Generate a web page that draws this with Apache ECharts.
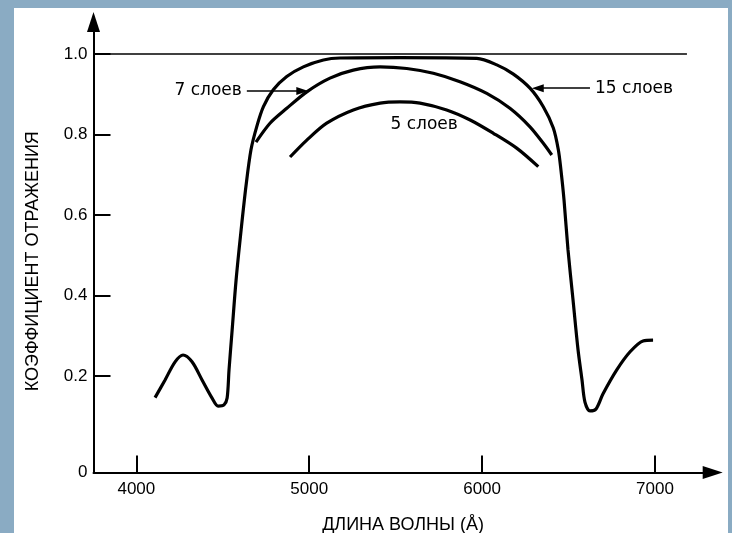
<!DOCTYPE html>
<html>
<head>
<meta charset="utf-8">
<script src="https://cdn.jsdelivr.net/npm/echarts@6/dist/echarts.min.js"></script>
<style>
html,body{margin:0;padding:0;background:#8aabc3;width:732px;height:533px;overflow:hidden;}
#bg{position:absolute;left:14px;top:8px;width:714px;height:525px;background:#fff;}
#chart{position:absolute;left:0;top:0;width:732px;height:533px;}
</style>
</head>
<body>
<div id="bg"></div>
<div id="chart"></div>
<script>
// Wavelength (Å) / reflectance pairs
const layers15 = [
  [4108,0.146],[4166,0.190],[4224,0.235],[4270,0.252],[4322,0.235],[4380,0.190],
  [4438,0.145],[4473,0.125],[4507,0.128],[4525,0.145],[4536,0.215],[4554,0.314],
  [4577,0.439],[4606,0.563],[4635,0.675],[4663,0.762],[4696,0.819],[4735,0.869],
  [4792,0.911],[4870,0.944],[4966,0.968],[5082,0.985],[5178,0.990],[5525,0.991],
  [5969,0.989],[6085,0.973],[6181,0.950],[6277,0.915],[6354,0.869],[6412,0.816],
  [6441,0.762],[6456,0.712],[6474,0.637],[6497,0.513],[6526,0.389],[6555,0.265],
  [6578,0.190],[6595,0.135],[6624,0.113],[6659,0.118],[6699,0.155],[6779,0.215],
  [6856,0.260],[6931,0.287],[6989,0.289]
];
const layers7 = [
  [4692,0.781],[4773,0.828],[4870,0.865],[4986,0.906],[5120,0.940],[5255,0.960],
  [5410,0.968],[5564,0.964],[5718,0.952],[5872,0.931],[6027,0.902],[6161,0.865],
  [6277,0.819],[6354,0.778],[6403,0.749]
];
const layers5 = [
  [4889,0.744],[4986,0.786],[5101,0.828],[5255,0.861],[5410,0.878],[5525,0.881],
  [5641,0.878],[5795,0.861],[5931,0.836],[6065,0.803],[6200,0.766],[6325,0.720]
];
const unityLine = [[3752,1.0],[7185,1.0]];

const xTickValues = [4000,5000,6000,7000];
const xTickTexts = ['4000','5000','6000','7000'];
const yTickValues = [0.2,0.4,0.6,0.8,1.0];
const yLabelValues = [-0.04,0.2,0.4,0.6,0.8,1.0];
const yLabelTexts = ['0','0.2','0.4','0.6','0.8','1.0'];

const annot7 = {text:'7 слоев', from:[4639,0.908], to:[4960,0.908]};
const annot15 = {text:'15 слоев', from:[6624,0.915], to:[6322,0.915]};
const annot5 = {text:'5 слоев', at:[5665,0.825]};

const xName = 'ДЛИНА ВОЛНЫ (Å)';
const yName = 'КОЭФФИЦИЕНТ ОТРАЖЕНИЯ';

const chart = echarts.init(document.getElementById('chart'), null, {renderer:'canvas'});
const sansFont = '"Liberation Sans", Arial, sans-serif';
const annFont = '"DejaVu Sans", sans-serif';
const ink = '#000';

function pick(values, texts, v) {
  for (let i = 0; i < values.length; i++) {
    if (Math.abs(v - values[i]) < 1e-6) return texts[i];
  }
  return '';
}

function curve(name, data) {
  return {
    name: name, type: 'line', data: data, showSymbol: false, smooth: 0.3,
    lineStyle: {color: ink, width: 3.2}, silent: true, animation: false, z: 3
  };
}

chart.setOption({
  backgroundColor: 'transparent',
  animation: false,
  grid: {left: 93.5, right: 19.3, top: 22, bottom: 60.5, containLabel: false, outerBoundsMode: 'none'},
  xAxis: {
    type: 'value', min: 3752, max: 7334,
    name: xName, nameLocation: 'middle', nameGap: 44,
    nameTextStyle: {fontFamily: sansFont, fontSize: 18, color: ink},
    axisLine: {onZero: false, lineStyle: {color: ink, width: 2}, symbol: ['none','triangle'], symbolSize: [13,20]},
    axisTick: {show: true, inside: true, length: 17, customValues: xTickValues, lineStyle: {color: ink, width: 2}},
    axisLabel: {
      customValues: xTickValues, margin: 8, fontFamily: sansFont, fontSize: 17, color: ink,
      formatter: function (v) { return pick(xTickValues, xTickTexts, v); }
    },
    splitLine: {show: false}
  },
  yAxis: {
    type: 'value', min: -0.04, max: 1.0795,
    name: yName, nameLocation: 'middle', nameGap: 51,
    nameTextStyle: {fontFamily: sansFont, fontSize: 18, color: ink, padding: [0, 28, 0, 0]},
    axisLine: {onZero: false, lineStyle: {color: ink, width: 2}, symbol: ['none','triangle'], symbolSize: [13,20]},
    axisTick: {show: true, inside: true, length: 17, customValues: yTickValues, lineStyle: {color: ink, width: 2}},
    axisLabel: {
      customValues: yLabelValues, margin: 6, fontFamily: sansFont, fontSize: 17, color: ink,
      verticalAlign: 'middle',
      formatter: function (v) { return pick(yLabelValues, yLabelTexts, v); }
    },
    splitLine: {show: false}
  },
  series: [
    {
      name: 'unity', type: 'line', data: unityLine, showSymbol: false,
      lineStyle: {color: ink, width: 1.5}, silent: true, z: 2
    },
    curve('15 слоев', layers15),
    curve('7 слоев', layers7),
    Object.assign(curve('5 слоев', layers5), {
      markPoint: {
        silent: true, symbol: 'circle', symbolSize: 1, itemStyle: {color: 'rgba(0,0,0,0)'},
        label: {show: true, position: 'inside', formatter: annot5.text, fontFamily: annFont, fontSize: 17, color: ink},
        data: [{coord: annot5.at}]
      }
    }),
    {
      name: 'annotations', type: 'line', data: [], silent: true,
      markLine: {
        silent: true, animation: false,
        symbol: ['none','triangle'], symbolSize: [8,12],
        lineStyle: {color: ink, width: 1.5, type: 'solid'},
        label: {show: true, position: 'start', distance: 5, fontFamily: annFont, fontSize: 17, color: ink},
        data: [
          [{coord: annot7.from, label: {formatter: annot7.text}}, {coord: annot7.to}],
          [{coord: annot15.from, label: {formatter: annot15.text}}, {coord: annot15.to}]
        ]
      }
    }
  ]
});
</script>
</body>
</html>
